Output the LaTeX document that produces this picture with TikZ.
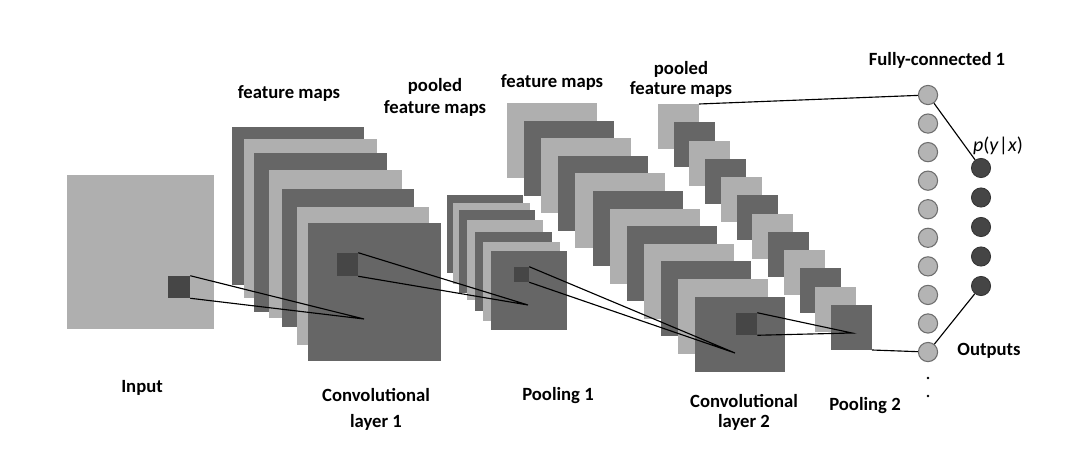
\documentclass[tikz,border=0pt]{standalone}
\usepackage{fontspec}
\setmainfont{Carlito}
\definecolor{lg}{HTML}{AFAFAF}
\definecolor{dg}{HTML}{666666}
\definecolor{sq}{HTML}{464646}
\definecolor{fcfill}{HTML}{B4B4B4}
\definecolor{fcline}{HTML}{6E6E6E}
\definecolor{outfill}{HTML}{454545}
\begin{document}
\begin{tikzpicture}[x=0.75pt,y=-0.75pt,
  ksq/.style={fill=sq,draw=none,inner sep=0pt},
  conn/.style={draw=black,line width=0.85pt},
  fc/.style={circle,fill=fcfill,draw=fcline,line width=0.8pt,minimum size=14.4pt,inner sep=0pt},
  outn/.style={circle,fill=outfill,draw=black!80,line width=0.6pt,minimum size=14.4pt,inner sep=0pt},
  dotn/.style={circle,fill=black,minimum size=2pt,inner sep=0pt},
  lbl/.style={font=\bfseries\fontsize{14}{17}\selectfont,align=center,inner sep=0pt},
  plbl/.style={font=\fontsize{15}{18}\selectfont,inner sep=0pt}]
\useasboundingbox (0,0) rectangle (1084,470);
\fill[white] (0,0) rectangle (1084,470);
% input
\fill[lg] (67,175) rectangle (214,329);
% conv layer 1
\foreach \a/\b/\c/\d/\col in {232/127/364/285/dg,244/139/377/298/lg,254/153/387/312/dg,269/170/402/318/lg,282/189/414/327/dg,297/207/429/345/lg,308/223/441/361/dg}
  \fill[\col] (\a,\b) rectangle (\c,\d);
% pooling 1
\foreach \a/\b/\c/\d/\col in {447/195/523/273/dg,453/203/530/284/lg,459/210/535/293/dg,467/220/543/300/lg,475/232/552/311/dg,483/242/560/321/lg,491/251/567/330/dg}
  \fill[\col] (\a,\b) rectangle (\c,\d);
% conv layer 2
\foreach \i/\col in {0/lg,1/dg,2/lg,3/dg,4/lg,5/dg,6/lg,7/dg,8/lg,9/dg,10/lg,11/dg}
  \fill[\col] ({507+17.1*\i},{103+17.6*\i}) rectangle ++(90,75);
% pooling 2
\foreach \i/\col in {0/lg,1/dg,2/lg,3/dg,4/lg,5/dg,6/lg,7/dg,8/lg,9/dg,10/lg,11/dg}
  \fill[\col] ({658+15.73*\i},{104+18.27*\i}) rectangle ++(41,45);
\coordinate (p2a) at (699,104);
\coordinate (p2b) at (872,350);
% kernels
\node[ksq,minimum width=16.5pt,minimum height=16.5pt] (k0) at (179,287) {};
\node[ksq,minimum width=15.75pt,minimum height=17.25pt] (k1) at (347.5,264.5) {};
\node[ksq,minimum size=11.25pt] (k2) at (521.5,274.5) {};
\node[ksq,minimum width=15.75pt,minimum height=16.5pt] (k3) at (746.5,324) {};
\coordinate (a1) at (364,319);
\coordinate (a2) at (528,305);
\coordinate (a3) at (735,353);
\coordinate (a4) at (852,333);
\draw[conn] (k0.north east) -- (a1) -- (k0.south east);
\draw[conn] (k1.north east) -- (a2) -- (k1.south east);
\draw[conn] (k2.north east) -- (a3) -- (k2.south east);
\draw[conn] (k3.north east) -- (a4) -- (k3.south east);
% fully connected
\foreach \i in {1,...,10}
  \node[fc] (fc\i) at (928,{95+28.56*(\i-1)}) {};
\foreach \i in {1,...,5}
  \node[outn] (o\i) at (981,{168+29.5*(\i-1)}) {};
\node[dotn] (d1) at (928,378) {};
\node[dotn] (d2) at (928,396) {};
\draw[conn] (p2a) -- (fc1);
\draw[conn] (p2b) -- (fc10);
\draw[conn] (fc1) -- (o1);
\draw[conn] (fc10) -- (o5);
% labels
\node[lbl] (tfm1) at (289,93) {feature maps};
\node[lbl] (tpf1) at (435,97) {pooled\\[-0.5pt]feature maps};
\node[lbl] (tfm2) at (552,82) {feature maps};
\node[lbl] (tpf2) at (681,79) {pooled\\[-2pt]feature maps};
\node[lbl] (tfc) at (937,60) {Fully-connected 1};
\node[plbl] (tp) at (998,146) {\textit{p}(\textit{y}|\textit{x})};
\node[lbl] (tout) at (989,351) {Outputs};
\node[lbl] (tin) at (142,388) {Input};
\node[lbl] (tc1) at (376,409.5) {Convolutional\\[3pt]layer 1};
\node[lbl] (tp1) at (558,396) {Pooling 1};
\node[lbl] (tc2) at (744,412) {Convolutional\\[-2pt]layer 2};
\node[lbl] (tp2) at (865,406) {Pooling 2};
\end{tikzpicture}
\end{document}
